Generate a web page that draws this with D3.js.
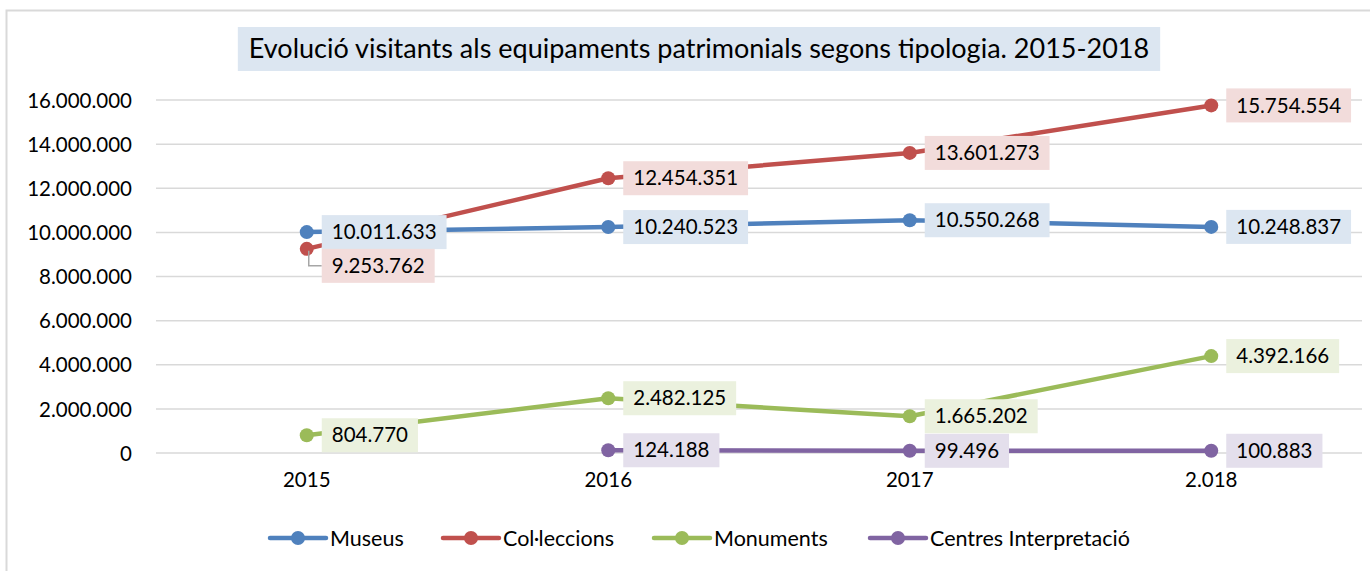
<!DOCTYPE html>
<html>
<head>
<meta charset="utf-8">
<script src="https://cdn.jsdelivr.net/npm/d3@7"></script>
<style>
  body { margin: 0; background: #fff; }
  svg { display: block; font-family: Lato, "Open Sans", sans-serif; }
</style>
</head>
<body>
<svg id="chart" width="1370" height="571"></svg>
<script>

var years = ["2015", "2016", "2017", "2.018"];
var museus = [10011633, 10240523, 10550268, 10248837];
var colleccions = [9253762, 12454351, 13601273, 15754554];
var monuments = [804770, 2482125, 1665202, 4392166];
var centres = [null, 124188, 99496, 100883];
var seriesNames = ["Museus", "Col·leccions", "Monuments", "Centres Interpretació"];
var yTicks = [0, 2000000, 4000000, 6000000, 8000000, 10000000, 12000000, 14000000, 16000000];

var colors = ["#4f81bd", "#c0504d", "#9bbb59", "#8064a2"];
var fills = ["#dce6f1", "#f2dcdb", "#ebf1de", "#e4dfec"];

var svg = d3.select("#chart");
var width = 1370, height = 571;

var cat = d3.formatLocale({decimal: ",", thousands: ".", grouping: [3], currency: ["", "€"]});
var fmt = cat.format(",d");

// chart border
svg.append("rect")
  .attr("x", 6.5).attr("y", 10.5)
  .attr("width", 1380).attr("height", 600)
  .attr("fill", "none")
  .attr("stroke", "#d9d9d9")
  .attr("stroke-width", 2);

var xScale = d3.scaleBand()
  .domain(years)
  .range([156, 1362]);

var yScale = d3.scaleLinear()
  .domain([0, 16000000])
  .range([453, 100]);

function cx(i) { return xScale(years[i]) + xScale.bandwidth() / 2; }

// gridlines
svg.append("g").selectAll("line")
  .data(yTicks)
  .enter().append("line")
  .attr("x1", 156).attr("x2", 1362)
  .attr("y1", function(d){ return yScale(d); })
  .attr("y2", function(d){ return yScale(d); })
  .attr("stroke", "#d9d9d9")
  .attr("stroke-width", 1.5);

// y axis
var yAxis = d3.axisLeft(yScale)
  .tickValues(yTicks)
  .tickFormat(fmt)
  .tickSize(0)
  .tickPadding(0);

var gy = svg.append("g")
  .attr("transform", "translate(132,0)")
  .call(yAxis);
gy.select(".domain").remove();
gy.selectAll("text")
  .attr("font-family", "Lato")
  .attr("font-size", 20.5)
  .attr("fill", "#000")
  .attr("dy", "0.35em");

// x axis
var xAxis = d3.axisBottom(xScale).tickSize(0).tickPadding(0);
var gx = svg.append("g")
  .attr("transform", "translate(0,472)")
  .call(xAxis);
gx.select(".domain").remove();
gx.selectAll("text")
  .attr("font-family", "Lato")
  .attr("font-size", 20.5)
  .attr("fill", "#000")
  .attr("dy", "0.75em");

// title
var titleG = svg.append("g");
var titleBg = titleG.append("rect").attr("fill", "#dce6f1");
var title = titleG.append("text")
  .attr("x", 699).attr("y", 49)
  .attr("text-anchor", "middle")
  .attr("dy", "0.35em")
  .attr("font-family", "Lato")
  .attr("font-size", 27)
  .attr("fill", "#000")
  .text("Evolució visitants als equipaments patrimonials segons tipologia. 2015-2018");
var tw = title.node().getComputedTextLength();
titleBg.attr("x", 699 - tw / 2 - 11).attr("y", 27)
  .attr("width", tw + 22).attr("height", 44);

var allSeries = [museus, colleccions, monuments, centres];

var line = d3.line()
  .defined(function(d){ return d.v !== null; })
  .x(function(d){ return cx(d.i); })
  .y(function(d){ return yScale(d.v); });

var linesG = svg.append("g");
allSeries.forEach(function(vals, s){
  var pts = vals.map(function(v, i){ return {i: i, v: v}; });
  linesG.append("path")
    .datum(pts)
    .attr("d", line)
    .attr("fill", "none")
    .attr("stroke", colors[s])
    .attr("stroke-width", 4.5)
    .attr("stroke-linejoin", "round");
  linesG.selectAll(".dot" + s)
    .data(pts.filter(function(d){ return d.v !== null; }))
    .enter().append("circle")
    .attr("cx", function(d){ return cx(d.i); })
    .attr("cy", function(d){ return yScale(d.v); })
    .attr("r", 7)
    .attr("fill", colors[s]);
});

// leader line for the shifted 2015 label
svg.append("path")
  .attr("d", "M" + (cx(0) + 2) + "," + (yScale(colleccions[0]) + 2) +
             "V" + (yScale(colleccions[0]) + 17) + "H" + (cx(0) + 15))
  .attr("fill", "none")
  .attr("stroke", "#a6a6a6")
  .attr("stroke-width", 1.5);

// data labels
var labelsG = svg.append("g");
allSeries.forEach(function(vals, s){
  vals.forEach(function(v, i){
    if (v === null) return;
    var dy = (s === 1 && i === 0) ? 17 : 0;
    var x0 = cx(i) + 15, yc = yScale(v) + dy;
    var g = labelsG.append("g");
    var r = g.append("rect").attr("fill", fills[s]);
    var t = g.append("text")
      .attr("x", x0 + 10).attr("y", yc)
      .attr("dy", "0.35em")
      .attr("font-family", "Lato")
      .attr("font-size", 20.5)
      .attr("fill", "#000")
      .text(fmt(v));
    var w = t.node().getComputedTextLength();
    r.attr("x", x0).attr("y", yc - 17)
      .attr("width", w + 20).attr("height", 34);
  });
});

// legend
var legendX = [270, 443, 654, 870];
var legend = svg.append("g");
seriesNames.forEach(function(name, s){
  var lx = legendX[s], ly = 538;
  legend.append("line")
    .attr("x1", lx).attr("x2", lx + 56)
    .attr("y1", ly).attr("y2", ly)
    .attr("stroke", colors[s])
    .attr("stroke-width", 4.5)
    .attr("stroke-linecap", "round");
  legend.append("circle")
    .attr("cx", lx + 28).attr("cy", ly).attr("r", 7)
    .attr("fill", colors[s]);
  legend.append("text")
    .attr("x", lx + 60).attr("y", ly)
    .attr("dy", "0.35em")
    .attr("font-family", "Lato")
    .attr("font-size", 21.5)
    .attr("fill", "#000")
    .text(name);
});

</script>
</body>
</html>
